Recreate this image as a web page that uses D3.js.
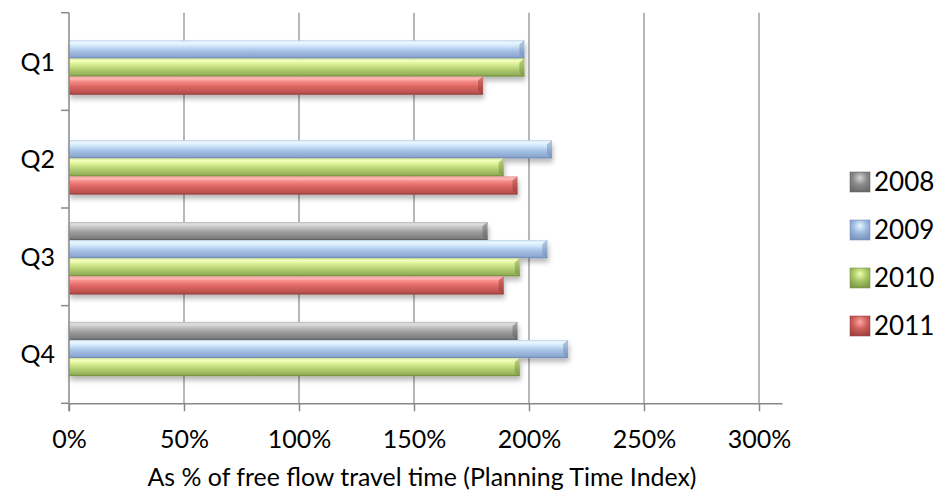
<!DOCTYPE html>
<html>
<head>
<meta charset="utf-8">
<script src="https://cdn.jsdelivr.net/npm/d3@7"></script>
<style>
  html, body { margin: 0; padding: 0; background: #fff; }
  svg { display: block; }
  text { font-family: Lato, "Open Sans", sans-serif; fill: #000; }
</style>
</head>
<body>
<svg id="chart" width="937" height="491"></svg>
<script>
// Quarters on the category axis, listed top to bottom
const categories = ["Q1", "Q2", "Q3", "Q4"];
// Years drawn as bars inside each quarter, top to bottom
const years = ["2008", "2009", "2010", "2011"];
// Planning Time Index per quarter (1 = 100% of free flow travel time); null = no data
const values2008 = [null, null, 1.82, 1.95];
const values2009 = [1.98, 2.10, 2.08, 2.17];
const values2010 = [1.98, 1.89, 1.96, 1.96];
const values2011 = [1.80, 1.95, 1.89, null];
// Value axis ticks
const xTicks = [0, 0.5, 1, 1.5, 2, 2.5, 3];
const axisTitle = "As % of free flow travel time (Planning Time Index)";

const seriesValues = [values2008, values2009, values2010, values2011];

// Bevel-style shading for each year: highlight at the top, darker toward the bottom
const shades = {
  "2008": { stops: ["#a8a8a8", "#d6d6d6", "#c4c4c4", "#9e9e9e", "#808080", "#6c6c6c"], edge: "#5a5a5a", swatch: "#8a8a8a" },
  "2009": { stops: ["#a9c3e2", "#e8f7ff", "#d2e9fb", "#a9c5e7", "#8da9d1", "#7a95bf"], edge: "#6d88b2", swatch: "#9db9de" },
  "2010": { stops: ["#bcd67c", "#f2ffb0", "#ddf198", "#b9d577", "#96b25a", "#809b48"], edge: "#6f8a3c", swatch: "#a9c865" },
  "2011": { stops: ["#e88683", "#ffa6a2", "#f48682", "#dc6662", "#bb524f", "#a24441"], edge: "#8e3a37", swatch: "#d0605c" }
};
const stopOffsets = [0, 0.1, 0.3, 0.55, 0.88, 1];

const svg = d3.select("#chart");

// Plot geometry
const plotLeft = 69, plotRight = 782, plotTop = 12.7, plotBottom = 403.3;

const x = d3.scaleLinear().domain([0, 3.1]).range([plotLeft, plotRight]);
// Category axis (ticks + labels)
const yAxisScale = d3.scaleBand().domain(categories).range([plotTop, plotBottom]);
// Bar placement per quarter
const yBars = d3.scaleBand().domain(categories).range([8.5, 408]);
const yInner = d3.scaleBand().domain(years).range([0, yBars.bandwidth()]).paddingOuter(0.76);

const defs = svg.append("defs");
years.forEach(yr => {
  const g = defs.append("linearGradient")
    .attr("id", "grad" + yr)
    .attr("x1", 0).attr("y1", 0).attr("x2", 0).attr("y2", 1);
  shades[yr].stops.forEach((c, i) => {
    g.append("stop").attr("offset", stopOffsets[i]).attr("stop-color", c);
  });
  const s = defs.append("radialGradient").attr("id", "sw" + yr).attr("cx", 0.5).attr("cy", 0.3).attr("r", 0.7);
  s.append("stop").attr("offset", 0).attr("stop-color", shades[yr].stops[1]);
  s.append("stop").attr("offset", 0.5).attr("stop-color", shades[yr].swatch);
  s.append("stop").attr("offset", 1).attr("stop-color", shades[yr].stops[5]);
});
const shadow = defs.append("filter").attr("id", "shadow")
  .attr("x", "-5%").attr("y", "-30%").attr("width", "115%").attr("height", "190%");
shadow.append("feDropShadow")
  .attr("dx", 1).attr("dy", 4).attr("stdDeviation", 2.5)
  .attr("flood-color", "#000").attr("flood-opacity", 0.28);

const gridColor = "#888888";

// Vertical gridlines
svg.append("g").selectAll("line")
  .data(xTicks.filter(d => d > 0))
  .join("line")
  .attr("x1", d => x(d)).attr("x2", d => x(d))
  .attr("y1", plotTop).attr("y2", plotBottom)
  .attr("stroke", gridColor).attr("stroke-width", 1.2);

// Bars
const rows = [];
categories.forEach((c, ci) => {
  years.forEach((yr, si) => {
    const v = seriesValues[si][ci];
    if (v != null) rows.push({ cat: c, year: yr, value: v });
  });
});

const barG = svg.append("g");
const bars = barG.selectAll("g.bar")
  .data(rows)
  .join("g")
  .attr("class", "bar")
  .attr("filter", "url(#shadow)");

bars.append("rect")
  .attr("x", x(0))
  .attr("y", d => yBars(d.cat) + yInner(d.year))
  .attr("width", d => x(d.value) - x(0))
  .attr("height", yInner.bandwidth())
  .attr("fill", d => `url(#grad${d.year})`);

// Chamfered right end of each bar
bars.append("path")
  .attr("d", d => {
    const x1 = x(d.value), y0 = yBars(d.cat) + yInner(d.year), h = yInner.bandwidth();
    const b = 5;
    return `M${x1 - b},${y0 + b * 0.8} L${x1},${y0} L${x1},${y0 + h} L${x1 - b},${y0 + h - b * 0.8} Z`;
  })
  .attr("fill", d => shades[d.year].edge)
  .attr("opacity", 0.45);
bars.append("path")
  .attr("d", d => {
    const x1 = x(d.value), y0 = yBars(d.cat) + yInner(d.year);
    const b = 5;
    return `M${x(0)},${y0} L${x1},${y0} L${x1 - b},${y0 + b * 0.8} L${x(0)},${y0 + b * 0.8} Z`;
  })
  .attr("fill", "#ffffff")
  .attr("opacity", 0.18);
bars.append("line")
  .attr("x1", x(0))
  .attr("x2", d => x(d.value))
  .attr("y1", d => yBars(d.cat) + yInner(d.year) + yInner.bandwidth() - 0.5)
  .attr("y2", d => yBars(d.cat) + yInner(d.year) + yInner.bandwidth() - 0.5)
  .attr("stroke", d => shades[d.year].edge)
  .attr("stroke-opacity", 0.6);

// Category axis: line, boundary ticks and labels
const boundaries = categories.map(c => yAxisScale(c)).concat([plotBottom]);
svg.append("line")
  .attr("x1", plotLeft).attr("x2", plotLeft)
  .attr("y1", plotTop).attr("y2", plotBottom + 8)
  .attr("stroke", gridColor).attr("stroke-width", 1.5);
svg.append("g").selectAll("line")
  .data(boundaries)
  .join("line")
  .attr("x1", plotLeft - 8).attr("x2", plotLeft)
  .attr("y1", d => d).attr("y2", d => d)
  .attr("stroke", gridColor).attr("stroke-width", 1.5);
svg.append("g").selectAll("text")
  .data(categories)
  .join("text")
  .attr("x", 55)
  .attr("y", d => yAxisScale(d) + yAxisScale.bandwidth() / 2 + 9)
  .attr("text-anchor", "end")
  .attr("font-size", 25)
  .text(d => d);

// Value axis
const xAxis = d3.axisBottom(x)
  .tickValues(xTicks)
  .tickFormat(d3.format(".0%"))
  .tickSize(8)
  .tickSizeOuter(0);
const xg = svg.append("g")
  .attr("transform", `translate(0,${plotBottom})`)
  .call(xAxis);
xg.select(".domain").attr("stroke", gridColor).attr("stroke-width", 1.5);
xg.selectAll(".tick line").attr("stroke", gridColor).attr("stroke-width", 1.5);
xg.selectAll(".tick text")
  .attr("dy", null)
  .attr("y", 45)
  .attr("fill", "#000")
  .attr("font-size", 25)
  .attr("font-family", "Lato, 'Open Sans', sans-serif");

// Axis title
svg.append("text")
  .attr("x", 422)
  .attr("y", 486)
  .attr("text-anchor", "middle")
  .attr("font-size", 25)
  .attr("textLength", 549)
  .attr("lengthAdjust", "spacingAndGlyphs")
  .text(axisTitle);

// Legend
const legend = svg.append("g").selectAll("g")
  .data(years)
  .join("g")
  .attr("transform", (d, i) => `translate(850,${172 + i * 48})`);
legend.append("rect")
  .attr("width", 20).attr("height", 20)
  .attr("fill", d => `url(#sw${d})`)
  .attr("stroke", d => shades[d].edge)
  .attr("stroke-opacity", 0.5);
legend.append("text")
  .attr("x", 24)
  .attr("y", 19)
  .attr("font-size", 26)
  .text(d => d);
</script>
</body>
</html>
